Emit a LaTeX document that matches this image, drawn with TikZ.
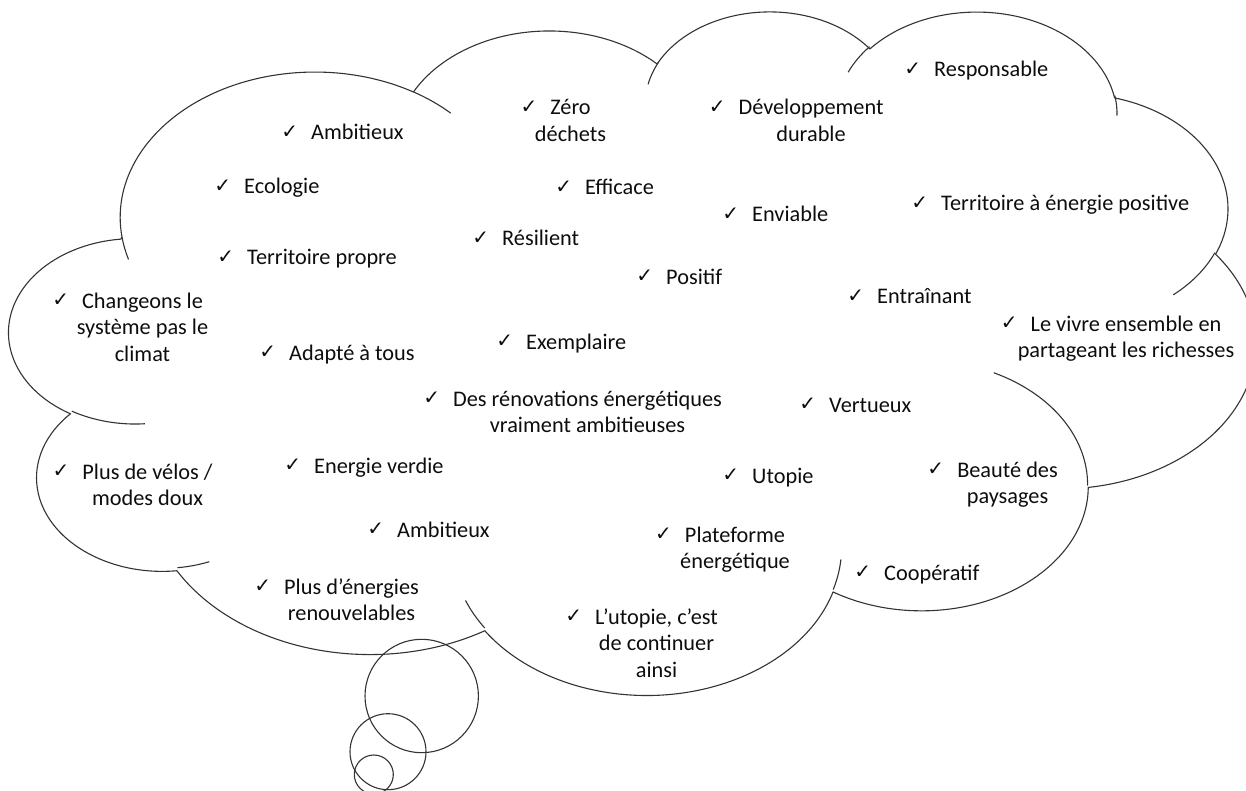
\documentclass[tikz,border=0pt]{standalone}
\usepackage{fontspec}
\setmainfont{Carlito}
\newfontfamily\checkfont{DejaVu Sans}
\newcommand{\chk}{\llap{\raisebox{1.5pt}{\checkfont\fontsize{20}{20}\selectfont ✓}\hspace{13pt}}}
\newcommand{\cloudarc}[4]{arc[x radius=#1, y radius=#2,
  start angle={atan2(#1*sin(#3),#2*cos(#3))},
  delta angle={mod(atan2(#1*sin(#3+#4),#2*cos(#3+#4))-atan2(#1*sin(#3),#2*cos(#3))+720,360)}]}

\begin{document}
\begin{tikzpicture}[x=1pt,y=-1pt,
  cloudline/.style={draw=black!80, line width=1.1pt, line join=round},
  item/.style={inner sep=0pt, align=center, text=black!95, font=\fontsize{22.3}{26.7}\selectfont}]
\useasboundingbox (0,0) rectangle (1246,791);

\begin{scope}[shift={(9.5,9.7)}, x=2.8841pt, y=-1.5817pt]
\draw[cloudline] (39,143.7) \cloudarc{67.53}{91.90}{-190.4875}{123.7805}
  \cloudarc{53.33}{72.67}{-144.1024}{89.9452}
  \cloudarc{43.65}{59.45}{-145.8079}{99.7230}
  \cloudarc{48.57}{65.95}{-130.9861}{117.2417}
  \cloudarc{53.33}{72.73}{-78.7089}{109.0269}
  \cloudarc{67.75}{92.20}{-46.2673}{130.2690}
  \cloudarc{57.85}{78.67}{0.6250}{114.0333}
  \cloudarc{67.52}{92.15}{22.4516}{115.1726}
  \cloudarc{77.20}{105.43}{66.2426}{75.7110}
  \cloudarc{43.60}{59.18}{-274.9421}{146.7356}
  \cloudarc{43.45}{59.45}{-246.8285}{152.5189} -- cycle;
\foreach \px/\py/\wr/\hr/\st/\sw in {
  46.93/261.77/43.45/59.45/86.742/26.4295,
  69.28/348.99/43.60/59.18/73.6105/11.4475,
  164.78/390.90/67.52/92.15/137.6242/14.0811,
  288.27/347.51/67.52/92.15/6.4533/15.9984,
  341.29/229.54/57.85/78.67/-70.2924/70.9174,
  417.98/153.54/53.33/72.73/30.3180/27.7515,
  383.24/54.26/48.57/65.95/-13.7443/14.8589,
  290.78/39.52/48.57/65.95/-149.1815/18.1954,
  221.41/47.20/43.65/59.45/-163.4943/17.6864,
  140.00/51.92/67.53/91.90/-66.7070/12.3194,
  41.27/157.89/67.53/91.90/157.6544/11.8582}
  \draw[cloudline] (\px,\py) \cloudarc{\wr}{\hr}{\st}{\sw};
\end{scope}

\draw[cloudline] (421.7,696) circle[radius=56.7];
\draw[cloudline] (388,751.7) circle[radius=38];
\draw[cloudline] (373.8,774.5) circle[radius=19.5];

\node[item, anchor=base west] (respons) at (934,77) {\chk Responsable};
\node[item, anchor=base west] (ambit1) at (311,140) {\chk Ambitieux};
\node[item, anchor=base west] (ecolo) at (244,194) {\chk Ecologie};
\node[item, anchor=base west] (effic) at (585,195) {\chk Efficace};
\node[item, anchor=base west] (envia) at (752,222) {\chk Enviable};
\node[item, anchor=base west] (tepos) at (941,211) {\chk Territoire à énergie positive};
\node[item, anchor=base west] (resil) at (502,246) {\chk Résilient};
\node[item, anchor=base west] (terpro) at (247,265) {\chk Territoire propre};
\node[item, anchor=base west] (posit) at (666,284) {\chk Positif};
\node[item, anchor=base west] (entrai) at (877,304) {\chk Entraînant};
\node[item, anchor=base west] (adapte) at (289,360) {\chk Adapté à tous};
\node[item, anchor=base west] (exempl) at (526,349) {\chk Exemplaire};
\node[item, anchor=base west] (vertu) at (829,412) {\chk Vertueux};
\node[item, anchor=base west] (enverd) at (314,473) {\chk Energie verdie};
\node[item, anchor=base west] (utopie) at (752,483) {\chk Utopie};
\node[item, anchor=base west] (ambit2) at (397,537) {\chk Ambitieux};
\node[item, anchor=base west] (coop) at (884,580) {\chk Coopératif};

\node[item, anchor=base] (zero) at (570.5,141.7) {\chk Zéro\\déchets};
\node[item, anchor=base] (devdur) at (811,141.7) {\chk Développement\\durable};
\node[item, anchor=base] (change) at (142.5,361.4) {\chk Changeons le\\système pas le\\climat};
\node[item, anchor=base] (vivre) at (1126,357.7) {\chk Le vivre ensemble en\\partageant les richesses};
\node[item, anchor=base] (renov) at (587.5,432.7) {\chk Des rénovations énergétiques\\vraiment ambitieuses};
\node[item, anchor=base] (velos) at (147.5,505.7) {\chk Plus de vélos /\\modes doux};
\node[item, anchor=base] (beaute) at (1007.5,503.7) {\chk Beauté des\\paysages};
\node[item, anchor=base] (platef) at (735,568.7) {\chk Plateforme\\énergétique};
\node[item, anchor=base] (enren) at (351.5,620.7) {\chk Plus d’énergies\\renouvelables};
\node[item, anchor=base] (contin) at (656.5,677.4) {\chk L’utopie, c’est\\de continuer\\ainsi};
\end{tikzpicture}
\end{document}
